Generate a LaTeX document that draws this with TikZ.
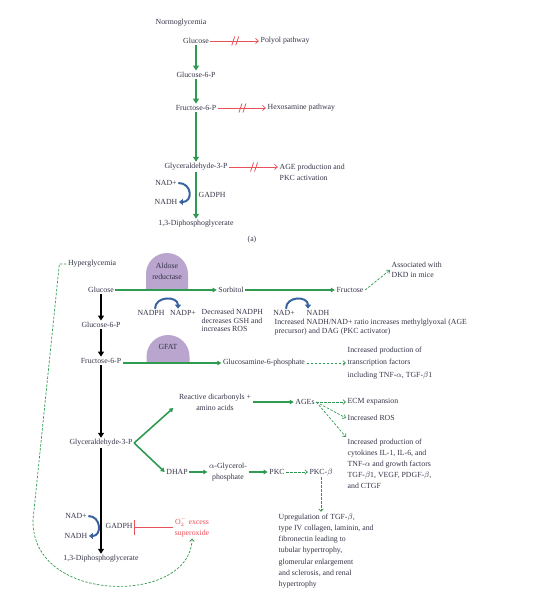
\documentclass[tikz,border=0pt]{standalone}
\usepackage{fontspec}
\setmainfont{Liberation Serif}
\usetikzlibrary{arrows.meta}

\definecolor{txt}{RGB}{52,52,72}
\definecolor{grn}{RGB}{46,155,80}
\definecolor{redc}{RGB}{232,80,90}
\definecolor{blu}{RGB}{58,100,160}
\definecolor{lav}{RGB}{185,165,205}

\begin{document}
\begin{tikzpicture}[x=1pt, y=-1pt,
	every node/.style={text=txt, inner sep=1.5pt, font=\fontsize{7.8}{11}\selectfont},
	tight/.style={align=left, font=\fontsize{7.8}{8.5}\selectfont},
	grnarr/.style={draw=grn, line width=2.4pt, -{Triangle[length=5pt,width=6pt]}},
	grnline/.style={draw=grn, line width=1.6pt, -{Triangle[length=4pt,width=4.5pt]}},
	blkarr/.style={draw=black, line width=2.6pt, -{Triangle[length=5pt,width=6pt]}},
	redarr/.style={draw=redc, line width=0.7pt, -{Straight Barb[length=3pt,width=5pt]}},
	gdash/.style={draw=grn, line width=0.7pt, dash pattern=on 2.5pt off 1.5pt, -{Straight Barb[length=2.5pt,width=4.5pt]}},
	bluarr/.style={draw=blu, line width=2pt, -{Triangle[length=4pt,width=6pt]}},
	cut/.pic={\draw[redc, line width=0.8pt, -] (-3,4.5) -- (0,-4.5) (1,4.5) -- (4,-4.5);}
]

	\useasboundingbox (0,0) rectangle (539,593);

	% ---- parameters

	\def\rdome{21}

	% ---- domes (enzymes)

	\fill[lav] (146,290) -- (146,274) arc[start angle=180, end angle=0, radius=\rdome pt] -- (188,290) -- cycle;
	\fill[lav] (146.5,363) -- (146.5,356.5) arc[start angle=180, end angle=0, radius=21.5pt] -- (189.5,363) -- cycle;

	% ---- normoglycemia

	\node (norm) at (181,23) {Normoglycemia};
	\node (glcA) at (196,41) {Glucose};
	\node (g6pA) at (196,75) {Glucose-6-P};
	\node (f6pA) at (196,108) {Fructose-6-P};
	\node (g3pA) at (196,167) {Glyceraldehyde-3-P};
	\node (dpgA) at (196,224) {1,3-Diphosphoglycerate};

	\node[anchor=west] (polyol) at (259,41) {Polyol pathway};
	\node[anchor=west] (hexo) at (266,108) {Hexosamine pathway};
	\node[anchor=west, align=left] (agepkc) at (278,172.5) {AGE production and\\PKC activation};

	\node (nadA) at (166,183) {NAD+};
	\node (nadhA) at (166,202) {NADH};
	\node[anchor=west] (gadphA) at (197,195) {GADPH};
	\node (capa) at (252,240) {(a)};

	\draw[grnarr] (glcA) -- (g6pA);
	\draw[grnarr] (g6pA) -- (f6pA);
	\draw[grnarr] (f6pA) -- (g3pA);
	\draw[grnarr] (g3pA) -- (dpgA);

	\draw[redarr] (glcA) -- (polyol) pic[pos=0.5]{cut};
	\draw[redarr] (f6pA) -- (hexo) pic[pos=0.5]{cut};
	\draw[redarr] (g3pA.east) -- (g3pA.east -| agepkc.west) pic[pos=0.5]{cut};

	\draw[bluarr] (nadA.east) .. controls +(14,0) and +(14,0) .. (nadhA.east);

	% ---- hyperglycemia: glycolysis

	\node (hyper) at (92,264) {Hyperglycemia};
	\node (glcB) at (101,290) {Glucose};
	\node (g6pB) at (101,325) {Glucose-6-P};
	\node (f6pB) at (101,361) {Fructose-6-P};
	\node (g3pB) at (101,443) {Glyceraldehyde-3-P};
	\node (dpgB) at (101,559) {1,3-Diphosphoglycerate};

	\node (nadC) at (76,516) {NAD+};
	\node (nadhC) at (76,536) {NADH};
	\node[anchor=west] (gadphB) at (104,526) {GADPH};
	\node[align=center, text=redc] (sup) at (192,527) {O$_2^{-}$ excess\\superoxide};

	\draw[blkarr] (glcB) -- (g6pB);
	\draw[blkarr] (g6pB) -- (f6pB);
	\draw[blkarr] (f6pB) -- (g3pB);
	\draw[blkarr] (g3pB) -- (dpgB);

	\draw[bluarr] (nadC.east) .. controls +(13,0) and +(13,0) .. (nadhC.east);
	\draw[redc, line width=0.8pt, -{Bar[width=15pt]}] (sup.west) -- (sup.west -| gadphB.east);

	\draw[gdash] (hyper.west) -- ++(-7,0) -- (33,520) .. controls (31,605) and (191,605) .. (sup.south);

	% ---- polyol pathway

	\node[align=center] (aldose) at (167,271) {Aldose\\reductase};
	\node (sorb) at (231,290) {Sorbitol};
	\node (fru) at (350,290) {Fructose};
	\node[anchor=west, align=left, font=\fontsize{7.8}{10}\selectfont] (assoc) at (390,270) {Associated with\\DKD in mice};

	\node (nadph) at (151,313) {NADPH};
	\node (nadpp) at (183,313) {NADP+};
	\node[anchor=west, tight] (decr) at (200,320.5) {Decreased NADPH\\decreases GSH and\\increases ROS};
	\node (nadB) at (284,313) {NAD+};
	\node (nadhB) at (318,313) {NADH};
	\node[anchor=west, tight] (incr) at (273,327) {Increased NADH/NAD+ ratio increases methylglyoxal (AGE\\precursor) and DAG (PKC activator)};

	\draw[grnline] (glcB) -- (sorb);
	\draw[grnline] (sorb) -- (fru);
	\draw[gdash] (fru.east) -- (assoc.west);

	\draw[bluarr] ([xshift=4pt]nadph.north) .. controls +(0,-13) and +(0,-13) .. ([xshift=-5pt]nadpp.north);
	\draw[bluarr] ([xshift=2pt]nadB.north) .. controls +(0,-13) and +(0,-13) .. ([xshift=-10pt]nadhB.north);

	% ---- hexosamine pathway

	\node (gfat) at (168,347) {GFAT};
	\node (glcn) at (264,363) {Glucosamine-6-phosphate};
	\node[anchor=west, align=left, font=\fontsize{7.8}{12.5}\selectfont] (tf) at (346,363) {Increased production of\\transcription factors\\including TNF-$\alpha$, TGF-$\beta$1};

	\draw[grnline] (f6pB.east |- glcn) -- (glcn);
	\draw[gdash] (glcn.east) -- (glcn.east -| tf.west);

	% ---- AGE and PKC pathways

	\node[align=center] (react) at (215,402) {Reactive dicarbonyls +\\amino acids};
	\node (ages) at (305,402) {AGEs};
	\node[anchor=west] (ecm) at (346,402) {ECM expansion};
	\node[anchor=west] (ros) at (346,418) {Increased ROS};
	\node[anchor=west, align=left] (cyto) at (346,463.5) {Increased production of\\cytokines IL-1, IL-6, and\\TNF-$\alpha$ and growth factors\\TGF-$\beta$1, VEGF, PDGF-$\beta$,\\and CTGF};

	\node (dhap) at (177,472) {DHAP};
	\node[align=center] (agp) at (228,472) {$\alpha$-Glycerol-\\phosphate};
	\node (pkc) at (277,472) {PKC};
	\node (pkcb) at (321,472) {PKC-$\beta$};
	\node[anchor=west, align=left, font=\fontsize{7.8}{11.3}\selectfont] (upreg) at (277,551) {Upregulation of TGF-$\beta$,\\type IV collagen, laminin, and\\fibronectin leading to\\tubular hypertrophy,\\glomerular enlargement\\and sclerosis, and renal\\hypertrophy};

	\draw[grnline] (g3pB.east) -- ([shift={(-4,-4)}]react.south west);
	\draw[grnline] (g3pB.east) -- (dhap.west);
	\draw[grnline] (react.east |- ages) -- (ages);
	\draw[gdash] (ages) -- (ecm);
	\draw[gdash] (ages.east) -- (ros.west);
	\draw[gdash] (ages.east) -- (cyto.north west);

	\draw[grnline] (dhap) -- (agp);
	\draw[grnline] (agp) -- (pkc);
	\draw[gdash] (pkc) -- (pkcb);
	\draw[gdash] (pkcb) -- (pkcb |- upreg.north);

\end{tikzpicture}
\end{document}
